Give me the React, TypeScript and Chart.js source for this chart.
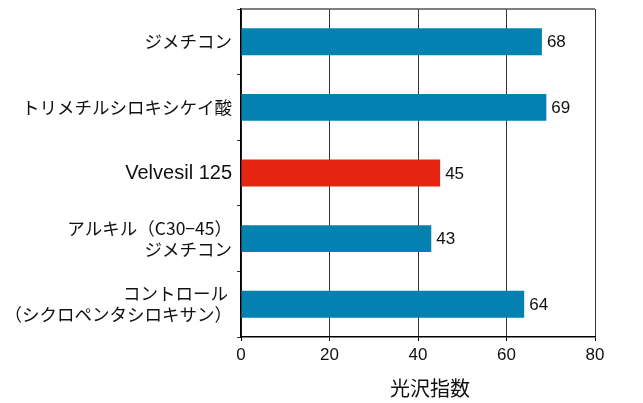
import React, { useEffect, useRef } from "react";
import { Chart, registerables } from "chart.js";

Chart.register(...registerables);

const categories: (string | string[])[] = [
  "ジメチコン",
  "トリメチルシロキシケイ酸",
  "Velvesil 125",
  ["アルキル（C30−45）", "ジメチコン"],
  ["コントロール ", "（シクロペンタシロキサン）"],
];
const glossValues = [68, 69, 45, 43, 64];
const barColors = ["#0381b1", "#0381b1", "#e62511", "#0381b1", "#0381b1"];
const xTicks = [0, 20, 40, 60, 80];
const xTitle = "光沢指数";

const LATIN = "'Liberation Sans', 'Noto Sans CJK JP', sans-serif";
const CJK = "'Noto Sans CJK JP', 'Liberation Sans', sans-serif";

const valueLabels = {
  id: "valueLabels",
  afterDatasetsDraw(chart: any) {
    const ctx = chart.ctx;
    const meta = chart.getDatasetMeta(0);
    ctx.save();
    ctx.font = `17px ${LATIN}`;
    ctx.fillStyle = "#111";
    ctx.textAlign = "left";
    ctx.textBaseline = "middle";
    meta.data.forEach((bar: any, i: number) => {
      ctx.fillText(String(glossValues[i]), bar.x + 5, bar.y + 1);
    });
    ctx.restore();
  },
};

const frameAndTitle = {
  id: "frameAndTitle",
  afterDraw(chart: any) {
    const { ctx, chartArea } = chart;
    ctx.save();
    ctx.strokeStyle = "#555";
    ctx.lineWidth = 1.5;
    ctx.beginPath();
    ctx.moveTo(chartArea.left, chartArea.top);
    ctx.lineTo(chartArea.right, chartArea.top);
    ctx.stroke();
    ctx.font = `20px ${CJK}`;
    ctx.fillStyle = "#111";
    ctx.textAlign = "center";
    ctx.textBaseline = "middle";
    ctx.fillText(xTitle, (chartArea.left + chartArea.right) / 2 + 12, chartArea.bottom + 51);
    ctx.restore();
  },
};

export default function App() {
  const ref = useRef<HTMLCanvasElement>(null);
  useEffect(() => {
    if (!ref.current) return;
    const chart = new Chart(ref.current, {
      type: "bar",
      data: {
        labels: categories,
        datasets: [
          {
            data: glossValues,
            backgroundColor: barColors,
            barPercentage: 0.41,
            categoryPercentage: 1,
          },
        ],
      },
      options: {
        indexAxis: "y",
        animation: false,
        responsive: true,
        maintainAspectRatio: false,
        layout: { padding: { top: 9, right: 48, left: 0, bottom: 0 } },
        plugins: { legend: { display: false }, tooltip: { enabled: false } },
        scales: {
          x: {
            min: 0,
            max: 80,
            afterBuildTicks: (scale: any) => {
              scale.ticks = xTicks.map((v) => ({ value: v }));
            },
            afterFit: (scale: any) => {
              scale.height = 66;
            },
            grid: {
              color: "#333",
              lineWidth: 1,
              tickLength: 4,
              tickColor: "#000",
            },
            border: { color: "#000", width: 1.5 },
            ticks: {
              color: "#111",
              font: { family: LATIN, size: 17 },
              padding: 4,
              maxRotation: 0,
            },
          },
          y: {
            afterFit: (scale: any) => {
              scale.width = 241;
              scale.paddingTop = 0;
              scale.paddingBottom = 0;
            },
            grid: {
              drawOnChartArea: false,
              tickLength: 4,
              tickColor: "#333",
            },
            border: { color: "#000", width: 1.5 },
            ticks: {
              color: "#111",
              font: (c: any) =>
                c.index === 2
                  ? { family: LATIN, size: 20, lineHeight: 1.2 }
                  : { family: CJK, size: 17.5, lineHeight: 1.2 },
              padding: 5,
            },
          },
        },
      },
      plugins: [valueLabels, frameAndTitle],
    });
    return () => chart.destroy();
  }, []);
  return (
    <div style={{ position: "fixed", left: 0, top: 0, width: 643, height: 403, background: "#fff" }}>
      <canvas ref={ref} />
    </div>
  );
}
